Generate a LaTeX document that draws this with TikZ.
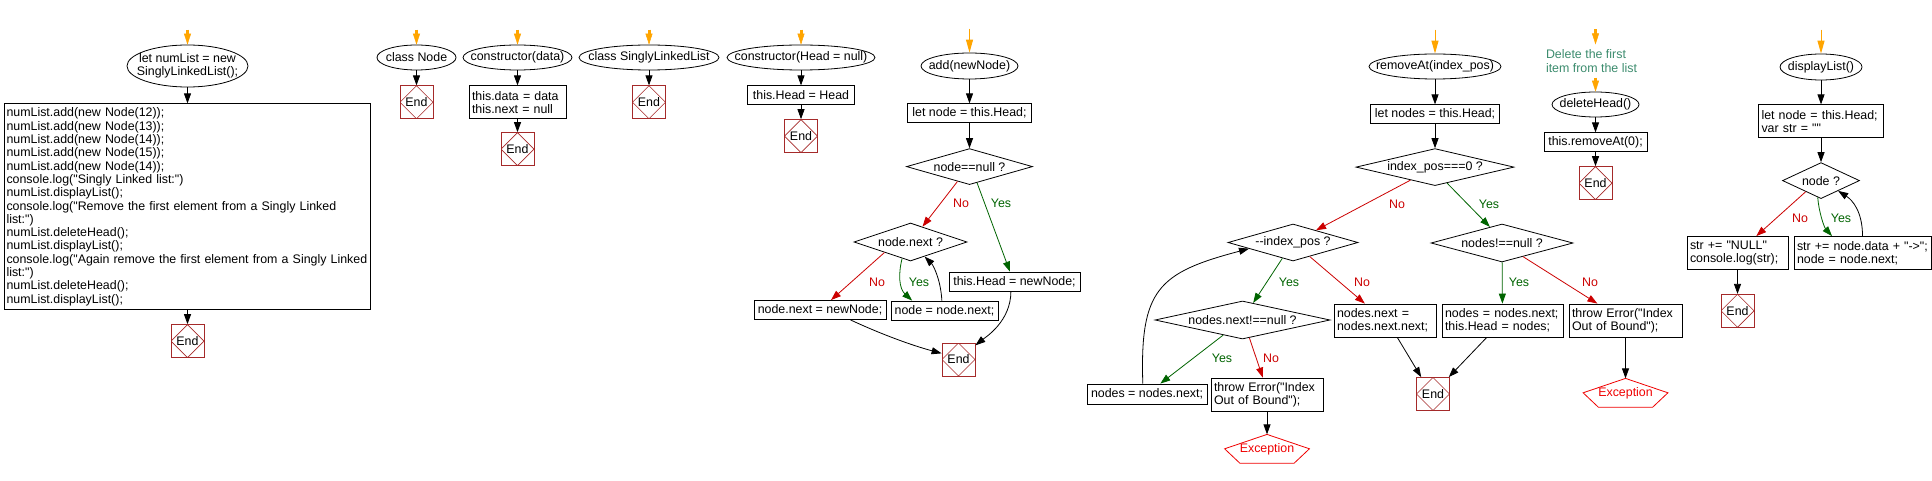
\documentclass[tikz,border=0pt]{standalone}
\usepackage{fontspec}
\newfontfamily\flowfont{Liberation Sans}
\usetikzlibrary{positioning, shapes.geometric, arrows.meta, calc}

\definecolor{startorange}{RGB}{255,165,0}
\definecolor{nored}{RGB}{204,0,0}
\definecolor{yesgreen}{RGB}{0,100,0}
\definecolor{endred}{RGB}{165,42,42}
\definecolor{excred}{RGB}{240,0,0}
\definecolor{notegreen}{RGB}{60,140,110}

% text that may run past the outline of an ellipse or a diamond
\newcommand{\tx}[1]{\makebox[0pt]{#1}}

\tikzset{
  term/.style={ellipse, draw, inner sep=0pt, minimum width=#1, minimum height=25pt},
  proc/.style={rectangle, draw, inner xsep=3pt, inner ysep=3pt, minimum width=#1, minimum height=19pt},
  proc/.default=0pt,
  codebox/.style={proc, text width=#1, align=left, minimum height=33pt},
  cond/.style={diamond, draw, inner sep=0pt, minimum width=#1, minimum height=37pt},
  endbox/.style={draw=endred, inner sep=0pt, minimum size=33pt,
    path picture={\draw[endred, line width=0.6pt] (path picture bounding box.north) -- (path picture bounding box.east) -- (path picture bounding box.south) -- (path picture bounding box.west) -- cycle;}},
  exc/.style={text=excred, inner sep=0pt, minimum width=84pt, minimum height=28pt},
  arr/.style={-{Triangle[width=7pt,length=10pt]}},
  noarr/.style={arr, draw=nored},
  yesarr/.style={arr, draw=yesgreen},
  nolab/.style={text=nored, inner sep=0pt},
  yeslab/.style={text=yesgreen, inner sep=0pt},
  entry/.style={draw=startorange, line width=3pt, -{Triangle[width=7pt,length=11pt,line width=0.5pt]}},
  entrylong/.style={draw=startorange, line width=1pt, -{Triangle[width=7pt,length=13pt]}}
}

\begin{document}
\begin{tikzpicture}[x=1pt, y=-1pt, line width=0.8pt, font=\flowfont\fontsize{12.4}{13.3}\selectfont]
\fill[white] (0,0) rectangle (1932,481);

% main program
\node[term=121pt, minimum height=42pt] (numlist) at (187.5,66) {\tx{\begin{tabular}{@{}c@{}}let numList = new\\SinglyLinkedList();\end{tabular}}};
\node[codebox=362pt, inner xsep=2pt, minimum height=206pt, below=16pt of numlist] (calls) {numList.add(new Node(12));\\
numList.add(new Node(13));\\
numList.add(new Node(14));\\
numList.add(new Node(15));\\
numList.add(new Node(14));\\
console.log("Singly Linked list:")\\
numList.displayList();\\
console.log("Remove the first element from a Singly~Linked\\
list:")\\
numList.deleteHead();\\
numList.displayList();\\
console.log("Again remove the first element from a Singly~Linked\\
list:")\\
numList.deleteHead();\\
numList.displayList();};
\node[endbox, below=14pt of calls] (end1) {End};

% class Node
\node[term=79pt] (classnode) at (416.5,57.5) {\tx{class Node}};
\node[endbox, below=15pt of classnode] (end2) {End};

% constructor(data)
\node[term=109pt] (ctordata) at (517.5,57.5) {\tx{constructor(data)}};
\node[codebox=91pt, below=15pt of ctordata] (setdata) {this.data = data\\this.next = null};
\node[endbox, below=13pt of setdata] (end3) {End};

% class SinglyLinkedList
\node[term=140pt] (classlist) at (649,57.5) {\tx{class SinglyLinkedList}};
\node[endbox, below=15pt of classlist] (end4) {End};

% constructor(Head = null)
\node[term=148pt] (ctorhead) at (801,57.5) {\tx{constructor(Head = null)}};
\node[proc=107pt, below=15pt of ctorhead] (sethead) {this.Head = Head};
\node[endbox, below=14pt of sethead] (end5) {End};

% add(newNode)
\node[term=97pt, minimum height=26pt] (add) at (969.5,66) {\tx{add(newNode)}};
\node[proc=124pt, below=24pt of add] (addinit) {let node = this.Head;};
\node[cond=126pt, minimum height=36pt, below=25pt of addinit] (isnull) {\tx{node==null ?}};
\node[cond=113pt, minimum height=38pt] (hasnext) at (910.5,242) {\tx{node.next ?}};
\node[proc=132pt] (append) at (820,310) {node.next = newNode;};
\node[proc=107pt] (walk) at (944.5,310.5) {node = node.next;};
\node[proc=131pt] (newhead) at (1014.5,281.5) {this.Head = newNode;};
\node[endbox] (end6) at (958.5,359.5) {End};

% removeAt(index_pos)
\node[term=132pt] (remove) at (1435,66.5) {\tx{removeAt(index\_pos)}};
\node[proc=129pt, below=25pt of remove] (removeinit) {let nodes = this.Head;};
\node[cond=158pt, below=24pt of removeinit] (iszero) {\tx{index\_pos===0 ?}};
\node[cond=130pt] (countdown) at (1293,242.5) {\tx{-{}-index\_pos ?}};
\node[cond=142pt, minimum height=38pt] (headok) at (1502,243) {\tx{nodes!==null ?}};
\node[cond=175pt, minimum height=38pt] (nextok) at (1242.5,320) {\tx{nodes.next!==null ?}};
\node[codebox=96pt] (unlink) at (1385,320.5) {nodes.next =\\nodes.next.next;};
\node[codebox=115pt] (drophead) at (1502.5,320.5) {nodes = nodes.next;\\this.Head = nodes;};
\node[codebox=107pt] (throwhead) at (1625.5,320.5) {throw Error("Index\\Out of Bound");};
\node[proc=120pt, minimum height=20pt] (stepnodes) at (1147,394) {nodes = nodes.next;};
\node[codebox=106pt] (thrownext) at (1267,394.5) {throw Error("Index\\Out of Bound");};
\node[endbox] (end7) at (1433,394) {End};
\node[exc, below=23pt of thrownext] (exc1) {Exception};
\node[exc, below=41pt of throwhead] (exc2) {Exception};

% deleteHead()
\node[text=notegreen, align=left, inner xsep=0pt, inner ysep=5pt] (note) at (1591.5,61) {Delete the first\\item from the list};
\node[term=87pt] (delhead) at (1595.5,104.5) {\tx{deleteHead()}};
\node[proc=103pt, below=15pt of delhead] (callremove) {this.removeAt(0);};
\node[endbox, below=14pt of callremove] (end8) {End};

% displayList()
\node[term=82pt, minimum height=26pt] (display) at (1821,67) {\tx{displayList()}};
\node[codebox=119pt, below=24pt of display] (displayinit) {let node = this.Head;\\var str = ""};
\node[cond=77pt, minimum height=36pt, below=24pt of displayinit] (hasnode) {\tx{node ?}};
\node[codebox=95pt] (shownull) at (1737.5,253) {str += "NULL"\\console.log(str);};
\node[codebox=131pt] (showdata) at (1862.5,253) {str += node.data + "->";\\node = node.next;};
\node[endbox, below=24pt of shownull] (end9) {End};

% exception outlines
\foreach \e in {exc1, exc2}
  \draw[excred] (\e.north) -- (\e.west) -- ($(\e.south west)!0.18!(\e.south east)$) -- ($(\e.south east)!0.18!(\e.south west)$) -- (\e.east) -- cycle;

% start arrows
\foreach \n in {numlist, classnode, ctordata, classlist, ctorhead}
  \draw[entry] ($(\n.north)+(0,-15)$) -- (\n.north);
\foreach \n in {add, remove, display}
  \draw[entrylong] ($(\n.north)+(0,-24)$) -- (\n.north);
\draw[entry] ($(delhead |- note.north)+(0,-15)$) -- (delhead |- note.north);
\draw[entry] (delhead |- note.south) -- (delhead.north);

% straight flow
\foreach \a/\b in {numlist/calls, calls/end1, classnode/end2, ctordata/setdata, setdata/end3,
    classlist/end4, ctorhead/sethead, sethead/end5, add/addinit, addinit/isnull,
    remove/removeinit, removeinit/iszero, delhead/callremove, callremove/end8,
    display/displayinit, displayinit/hasnode, shownull/end9, throwhead/exc2, thrownext/exc1}
  \draw[arr] (\a) -- (\b);

% add branches
\draw[noarr] (isnull.231) -- (hasnext.52);
\draw[yesarr] (isnull.295) -- (newhead.115);
\draw[noarr] (hasnext.202) -- (append.42);
\draw[yesarr] (hasnext.243) .. controls +(-4,16) and +(-13,-12) .. (walk.163);
\draw[arr] (walk.105) .. controls +(-1,-20) and +(9,9) .. (hasnext.314);
\draw[arr] (append.342) .. controls +(30,14) and +(-30,-8) .. (end6.160);
\draw[arr] (newhead.250) .. controls +(0,30) and +(10,-8) .. (end6.40);

% removeAt branches
\draw[noarr] (iszero.208) -- (countdown.28);
\draw[yesarr] (iszero.307) -- (headok.127);
\draw[yesarr] (countdown.236) -- (nextok.58);
\draw[noarr] (countdown.320) -- (unlink.140);
\draw[yesarr] (headok) -- (drophead);
\draw[noarr] (headok.327) -- (throwhead.149);
\draw[yesarr] (nextok.218) -- (stepnodes.38);
\draw[noarr] (nextok.291) -- (thrownext.104);
\draw[arr] (stepnodes.112) .. controls +(-3,-94) and +(-91,24) .. (countdown.188);
\draw[arr] (unlink.306) -- (end7.125);
\draw[arr] (drophead.227) -- (end7.47);

% displayList branches
\draw[noarr] (hasnode.216) -- (shownull.42);
\draw[yesarr] (hasnode.259) .. controls +(1,14) and +(-8,-9) .. (showdata.151);
\draw[arr] (showdata.north) .. controls +(0,-25) and +(14,9) .. (hasnode.329);

% branch labels
\foreach \x/\y [count=\i] in {961/203, 877/282, 1397/204, 1362/282, 1590/282, 1271/358, 1800/218}
  \node[nolab] (no\i) at (\x,\y) {No};
\foreach \x/\y [count=\i] in {1001/203, 919/282, 1489/204, 1289/282, 1519/282, 1222/358, 1841/218}
  \node[yeslab] (yes\i) at (\x,\y) {Yes};

\end{tikzpicture}
\end{document}
